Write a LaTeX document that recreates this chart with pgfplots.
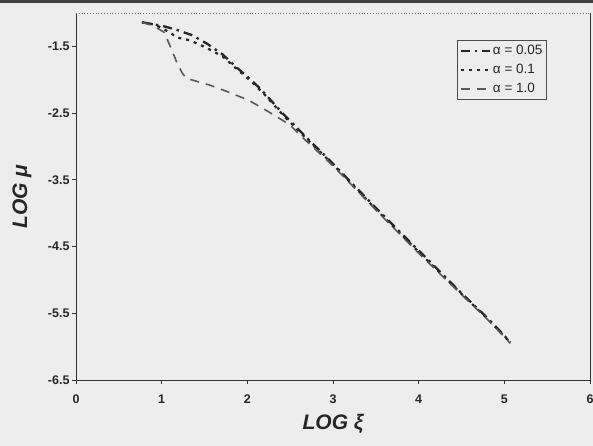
\documentclass[border=0pt]{standalone}
\usepackage{fontspec}
\setmainfont{Liberation Sans}
\usepackage{pgfplots}
\pgfplotsset{compat=1.18}
\begin{document}
\begin{tikzpicture}[x=1pt,y=1pt]
\useasboundingbox (-76,-66) rectangle (517,380);
\fill[black!7] (-76,-66) rectangle (517,380);
\fill[black!75] (-76,377) rectangle (517,380);
\begin{axis}[
  at={(0,0)}, anchor=south west, scale only axis,
  width=514pt, height=367pt,
  xmin=0, xmax=6, ymin=-6.5, ymax=-1.0,
  axis x line*=bottom, axis y line*=left,
  axis line style={black!80, line width=0.8pt},
  clip=false,
  xtick={0,1,2,3,4,5,6},
  xticklabels={0,1,2,3,4,5,6},
  ytick={-6.5,-5.5,-4.5,-3.5,-2.5,-1.5},
  yticklabels={-6.5,-5.5,-4.5,-3.5,-2.5,-1.5},
  tick align=outside, major tick length=4pt,
  tick style={black!80, line width=0.8pt},
  /pgf/number format/assume math mode=true,
  xticklabel style={font=\bfseries\fontsize{12.5}{14}\selectfont, text=black!85, yshift=-7pt},
  yticklabel style={font=\bfseries\fontsize{12.5}{14}\selectfont, text=black!85, xshift=1pt},
  xlabel={LOG ξ}, ylabel={LOG μ},
  xlabel style={font=\bfseries\itshape\fontsize{21}{24}\selectfont, text=black!85, at={(axis description cs:0.5,-0.12)}, anchor=center},
  ylabel style={font=\bfseries\itshape\fontsize{21}{24}\selectfont, text=black!85, at={(axis description cs:-0.105,0.5)}, anchor=center},
  legend style={at={(axis description cs:0.916,0.926)}, anchor=north east,
    draw=black!70, line width=0.8pt, fill=none, font=\fontsize{13.5}{15}\selectfont,
    inner sep=2pt, row sep=2pt, nodes={inner sep=2pt, text=black!85, text height=10pt, text depth=3pt}},
  legend cell align=left,
  legend image code/.code={\draw[#1] (0pt,0pt) -- (29pt,0pt);},
]
\addplot[black!85, line width=2.3pt, dash pattern=on 9pt off 5pt on 2.5pt off 5pt] coordinates {
(0.77,-1.14) (1.00,-1.19) (1.17,-1.25) (1.35,-1.33) (1.53,-1.46) (1.71,-1.62)
(1.87,-1.81) (2.05,-2.01) (2.17,-2.16) (2.41,-2.50) (2.64,-2.80) (3.00,-3.26)
(3.53,-3.96) (4.00,-4.56) (4.50,-5.20) (4.81,-5.58) (5.07,-5.93)};
\addlegendentry{α = 0.05}
\addplot[black!85, line width=2.2pt, dash pattern=on 3pt off 5pt] coordinates {
(0.77,-1.14) (0.90,-1.17) (1.00,-1.22) (1.10,-1.30) (1.19,-1.37) (1.33,-1.41)
(1.47,-1.49) (1.58,-1.56) (1.71,-1.65) (1.87,-1.83) (2.05,-2.03) (2.20,-2.22)
(2.41,-2.52) (2.64,-2.82) (3.00,-3.27) (3.53,-3.98) (4.00,-4.58) (4.50,-5.21)
(4.81,-5.59) (5.07,-5.94)};
\addlegendentry{α = 0.1}
\addplot[black!65, line width=1.6pt, dash pattern=on 9pt off 7pt] coordinates {
(0.77,-1.14) (0.90,-1.19) (1.03,-1.29) (1.10,-1.50) (1.18,-1.75) (1.24,-1.90)
(1.29,-1.98) (1.56,-2.08) (1.79,-2.19) (2.02,-2.31) (2.26,-2.49) (2.49,-2.67)
(2.64,-2.86) (3.00,-3.29) (3.53,-3.99) (4.00,-4.60) (4.50,-5.22) (4.81,-5.60)
(5.07,-5.95)};
\addlegendentry{α = 1.0}
\draw[black!55, line width=0.8pt, dotted] (rel axis cs:0,1) -- (rel axis cs:1,1);
\draw[black!80, line width=0.8pt] (rel axis cs:1,0) -- (rel axis cs:1,1);
\end{axis}
\end{tikzpicture}
\end{document}
